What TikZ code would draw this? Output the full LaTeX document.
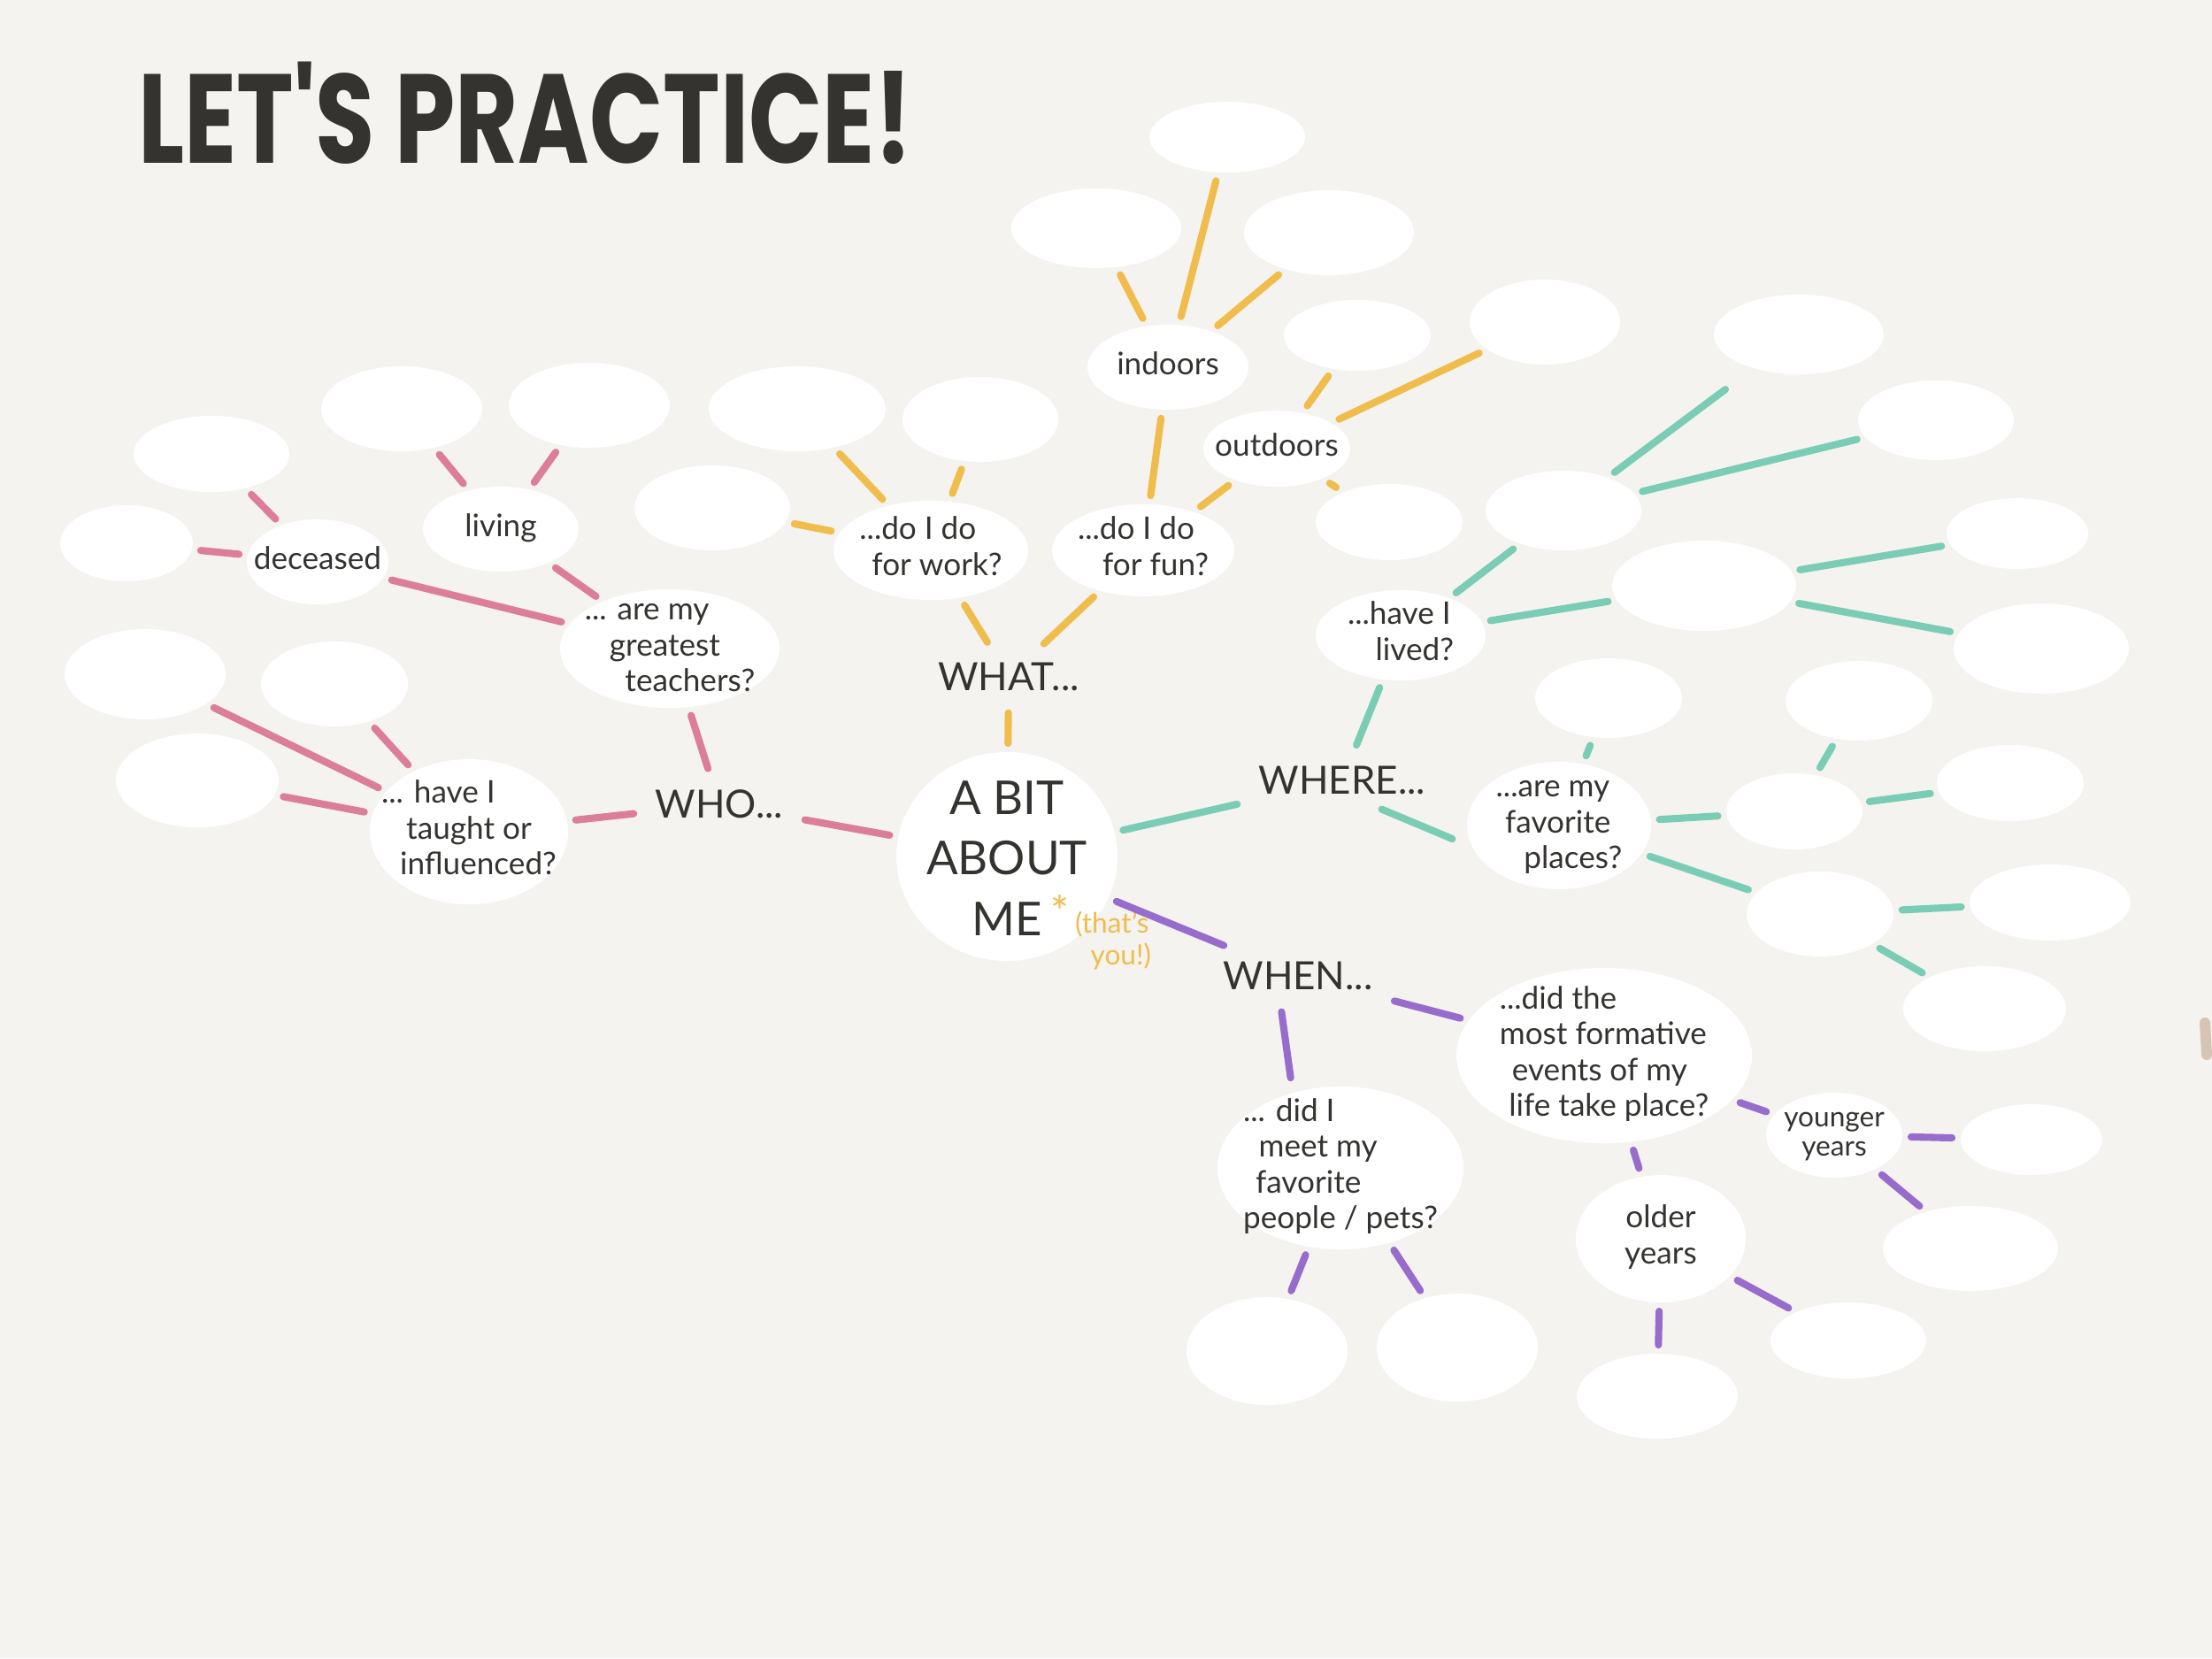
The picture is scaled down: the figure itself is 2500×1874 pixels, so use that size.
\documentclass[tikz,border=0pt]{standalone}
\usepackage{fontspec}
\usepackage{graphicx}
\setmainfont{Lato}
\newfontfamily\titlefont{Poppins}
\usetikzlibrary{shapes.geometric}
\definecolor{bgc}{RGB}{244,243,239}
\definecolor{ink}{RGB}{52,51,48}
\definecolor{cpink}{RGB}{219,125,155}
\definecolor{corange}{RGB}{240,188,76}
\definecolor{cteal}{RGB}{122,205,180}
\definecolor{cpurple}{RGB}{152,108,204}
\definecolor{ctan}{RGB}{216,196,180}
\newcommand\zt[2][c]{\makebox[0pt][c]{\raisebox{-0.25em}[0pt][0pt]{\begin{tabular}{@{}#1@{}}#2\end{tabular}}}}
\begin{document}
\begin{tikzpicture}[x=0.1mm,y=-0.1mm,
  bub/.style 2 args={ellipse, fill=white, inner sep=0pt, outer sep=0pt,
    minimum width=#1*0.2mm, minimum height=#2*0.2mm, text=ink,
    font=\fontsize{10}{11.5}\selectfont},
  lbl/.style={text=ink, font=\fontsize{12.5}{14}\selectfont, inner sep=4pt},
  ln/.style={line width=2.3pt, line cap=round, shorten <=1mm, shorten >=1mm},
  pk/.style={ln, draw=cpink},
  og/.style={ln, draw=corange},
  tl/.style={ln, draw=cteal},
  pp/.style={ln, draw=cpurple}]
\fill[bgc] (0,0) rectangle (2500,1874);
\useasboundingbox (0,0) rectangle (2500,1874);

% title
\node[text=ink, inner sep=0pt] (title) at (594,128)
  {\scalebox{0.74}[0.97]{\titlefont\fontsize{42}{42}\selectfont\bfseries LET'S PRACTICE!}};

% centre
\node[bub={125}{118}, font=\fontsize{15}{19.5}\selectfont] (c) at (1138,968) {\raisebox{-1.3mm}{\zt{A BIT\\ABOUT\\ME}}};
\node[text=corange, inner sep=0pt, font=\fontsize{14}{14}\selectfont] (ast) at (1198,1030) {*};
\node[text=corange, inner sep=0pt, font=\fontsize{9}{10}\selectfont, align=left] (ty) at (1258,1063) {(that's\\\hspace*{5pt}you!)};

% labels
\node[lbl] (who) at (813,909) {WHO...};
\node[lbl] (what) at (1140,765) {WHAT...};
\node[lbl] (where) at (1517,882) {WHERE...};
\node[lbl] (when) at (1467,1103) {WHEN...};

% WHO branch
\node[bub={124}{67}] (teach) at (757,733) {\zt[l]{... are my\\\hspace*{8pt}greatest\\\hspace*{13pt}teachers?}};
\node[bub={112}{82}] (taught) at (530,940) {\zt[l]{... have I\\\hspace*{8pt}taught or\\\hspace*{6pt}influenced?}};
\node[bub={88}{48}] (living) at (566,598) {\zt{living}};
\node[bub={80}{48}] (deceased) at (359,635) {\zt{deceased}};
\node[bub={91}{48}] (p1) at (454,462) {};
\node[bub={91}{48}] (p2) at (666,458) {};
\node[bub={88}{43}] (p3) at (239,513) {};
\node[bub={75}{43}] (p4) at (143,614) {};
\node[bub={91}{51}] (p5) at (164,762) {};
\node[bub={83}{48}] (p6) at (378,773) {};
\node[bub={92}{53}] (p7) at (223,882) {};

% WHAT branch
\node[bub={110}{56}] (work) at (1052,622) {\zt[l]{...do I do\\\hspace*{4pt}for work?}};
\node[bub={103}{52}] (fun) at (1292,622) {\zt[l]{...do I do\\\hspace*{8pt}for fun?}};
\node[bub={91}{48}] (indoors) at (1320,415) {\zt{indoors}};
\node[bub={83}{43}] (outdoors) at (1443,507) {\zt{outdoors}};
\node[bub={100}{48}] (o1) at (901,462) {};
\node[bub={88}{48}] (o2) at (1108,474) {};
\node[bub={88}{48}] (o3) at (805,574) {};
\node[bub={88}{40}] (o4) at (1387,155) {};
\node[bub={96}{45}] (o5) at (1239,258) {};
\node[bub={96}{48}] (o6) at (1502,263) {};
\node[bub={83}{40}] (o7) at (1534,379) {};
\node[bub={85}{48}] (o8) at (1746,364) {};
\node[bub={83}{43}] (o9) at (1570,590) {};

% WHERE branch
\node[bub={96}{51}] (lived) at (1583,718) {\zt[l]{...have I\\\hspace*{9pt}lived?}};
\node[bub={104}{72}] (places) at (1762,933) {\zt[l]{...are my\\\hspace*{3pt}favorite\\\hspace*{9pt}places?}};
\node[bub={88}{45}] (t1) at (1767,577) {};
\node[bub={96}{45}] (t2) at (2033,378) {};
\node[bub={88}{45}] (t3) at (2188,475) {};
\node[bub={104}{51}] (t4) at (1926,662) {};
\node[bub={80}{40}] (t5) at (2280,603) {};
\node[bub={99}{51}] (t6) at (2307,733) {};
\node[bub={83}{45}] (t7) at (1818,789) {};
\node[bub={83}{45}] (t8) at (2101,792) {};
\node[bub={77}{43}] (t9) at (2028,917) {};
\node[bub={83}{43}] (t10) at (2272,885) {};
\node[bub={83}{48}] (t11) at (2057,1033) {};
\node[bub={91}{43}] (t12) at (2317,1020) {};
\node[bub={92}{48}] (t13) at (2243,1140) {};

% WHEN branch
\node[bub={167}{99}] (form) at (1813,1193) {\zt[l]{...did the\\most formative\\\hspace*{4pt}events of my\\\hspace*{3pt}life take place?}};
\node[bub={139}{92}] (meet) at (1515,1320) {\zt[l]{... did I\\\hspace*{5pt}meet my\\\hspace*{4pt}favorite\\people / pets?}};
\node[bub={96}{72}] (older) at (1877,1400) {\zt{older\\years}};
\node[bub={77}{48}, font=\fontsize{9}{9.5}\selectfont] (younger) at (2073,1283) {\zt{younger\\years}};
\node[bub={91}{61}] (u1) at (1432,1527) {};
\node[bub={91}{61}] (u2) at (1647,1523) {};
\node[bub={80}{40}] (u3) at (2296,1288) {};
\node[bub={99}{48}] (u4) at (2227,1411) {};
\node[bub={91}{48}] (u5) at (1873,1578) {};
\node[bub={88}{43}] (u6) at (2089,1515) {};

% connectors WHO
\draw[pk] (c) -- (who);
\draw[pk] (who) -- (taught);
\draw[pk] (who) -- (teach);
\draw[pk] (teach) -- (living);
\draw[pk] (teach) -- (deceased);
\draw[pk] (living) -- (p1);
\draw[pk] (living) -- (p2);
\draw[pk] (deceased) -- (p3);
\draw[pk] (deceased) -- (p4);
\draw[pk] (taught) -- (p5);
\draw[pk] (taught) -- (p6);
\draw[pk] (taught) -- (p7);
% connectors WHAT
\draw[og] (c) -- (what);
\draw[og] (what) -- (work);
\draw[og] (what) -- (fun);
\draw[og] (work) -- (o1);
\draw[og] (work) -- (o2);
\draw[og] (work) -- (o3);
\draw[og] (fun) -- (indoors);
\draw[og] (fun) -- (outdoors);
\draw[og] (indoors) -- (o4);
\draw[og] (indoors) -- (o5);
\draw[og] (indoors) -- (o6);
\draw[og] (outdoors) -- (o7);
\draw[og] (outdoors) -- (o8);
\draw[og] (outdoors) -- (o9);
% connectors WHERE
\draw[tl] (c) -- (where);
\draw[tl] (where) -- (lived);
\draw[tl, shorten <=0.5mm, shorten >=1.8mm] ([xshift=4mm]where.south) -- ([yshift=-2.2mm]places.west);
\draw[tl] (lived) -- (t1);
\draw[tl] (lived) -- (t4);
\draw[tl, shorten >=4mm] (t1) -- (t2);
\draw[tl] (t1) -- (t3);
\draw[tl] (t4) -- (t5);
\draw[tl] (t4) -- (t6);
\draw[tl] (places) -- (t7);
\draw[tl] (places) -- (t9);
\draw[tl] (places) -- (t11);
\draw[tl] (t9) -- (t8);
\draw[tl] (t9) -- (t10);
\draw[tl] (t11) -- (t12);
\draw[tl] (t11) -- (t13);
% connectors WHEN
\draw[pp] (c) -- (when);
\draw[pp] (when) -- (form);
\draw[pp] ([xshift=-2mm]when.south) -- ([xshift=-5.5mm]meet.north);
\draw[pp] (meet) -- (u1);
\draw[pp] (meet) -- (u2);
\draw[pp] (form) -- (older);
\draw[pp] (form) -- (younger);
\draw[pp] (younger) -- (u3);
\draw[pp] (younger) -- (u4);
\draw[pp] (older) -- (u5);
\draw[pp] (older) -- (u6);

% edge mark
\draw[ctan, line width=1.2mm, line cap=round] (2492,1156) -- (2494,1192);
\end{tikzpicture}
\end{document}
